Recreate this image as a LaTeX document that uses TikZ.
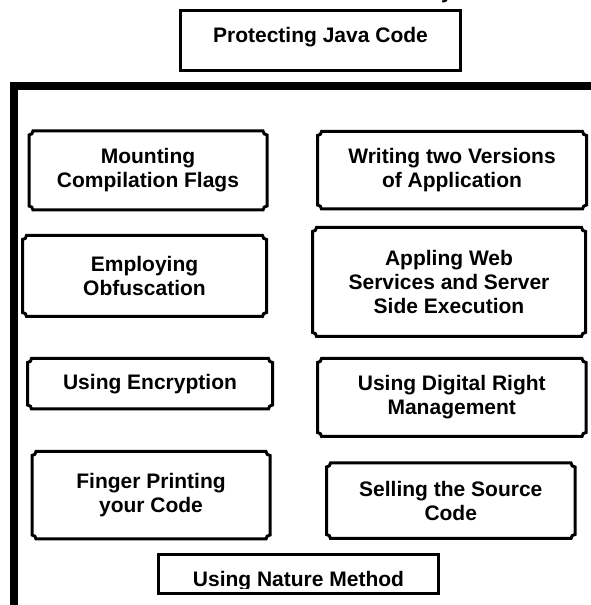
\documentclass[tikz,border=0pt]{standalone}
\usepackage{fontspec}
\setmainfont{Liberation Sans}
\begin{document}
\begin{tikzpicture}[x=1pt,y=1pt,
  cell/.style={rectangle, inner sep=0pt, outer sep=0pt, align=center,
    font=\bfseries\fontsize{21}{24}\selectfont},
  boxline/.style={line width=3pt, line join=miter},
  frameline/.style={line width=8pt, line join=miter}]
% concave-cornered outline around a named cell
\newcommand\plaqueoutline[1]{%
  \draw[boxline]
    ([xshift=4pt]#1.north west) -- ([xshift=-4pt]#1.north east)
    arc[start angle=180, end angle=270, radius=4pt]
    -- ([yshift=4pt]#1.south east)
    arc[start angle=90, end angle=180, radius=4pt]
    -- ([xshift=4pt]#1.south west)
    arc[start angle=0, end angle=90, radius=4pt]
    -- ([yshift=-4pt]#1.north west)
    arc[start angle=270, end angle=360, radius=4pt] -- cycle;}
\useasboundingbox[fill=white] (0,0) rectangle (590,605);

% tail of a letter from the line above
\node[cell, anchor=base] (ytail) at (447,606.5) {y};

% title
\node[cell, draw, boxline, minimum width=280, minimum height=60] (title) at (320,564) {};
\node[cell, anchor=base] (titletext) at (320.5,562.3) {Protecting Java Code};

% enclosing frame
\draw[frameline] (600,518.5) -- (14,518.5) -- (14,-5);

% left column
\node[cell, minimum width=238, minimum height=79] (mount) at (148,434.5)
  {Mounting\\Compilation Flags};
\node[cell, minimum width=244, minimum height=81] (obf) at (144.5,329)
  {Employing\\Obfuscation};
\node[cell, minimum width=245, minimum height=50.5] (enc) at (150,221.25)
  {Using Encryption};
\node[cell, minimum width=238, minimum height=87.5] (finger) at (151,109.75)
  {Finger Printing\\your Code};

% right column
\node[cell, minimum width=269, minimum height=77.5] (twover) at (452,434.75)
  {Writing two Versions\\of Application};
\node[cell, minimum width=273, minimum height=109] (web) at (449,323)
  {Appling Web\\Services and Server\\Side Execution};
\node[cell, minimum width=268.5, minimum height=78] (drm) at (451.75,207.5)
  {Using Digital Right\\Management};
\node[cell, minimum width=248.5, minimum height=75.5] (sell) at (450.75,104.25)
  {Selling the Source\\Code};

\foreach \n in {mount,obf,enc,finger,twover,web,drm,sell}{\plaqueoutline{\n}}

% bottom box, label cut off at its lower part
\node[cell, draw, boxline, minimum width=280.5, minimum height=39] (nature) at (298.25,31) {};
\begin{scope}
  \clip (158,16) rectangle (438.5,50);
  \node[cell, anchor=base] (naturetext) at (298.5,19) {Using Nature Method};
\end{scope}
\end{tikzpicture}
\end{document}
